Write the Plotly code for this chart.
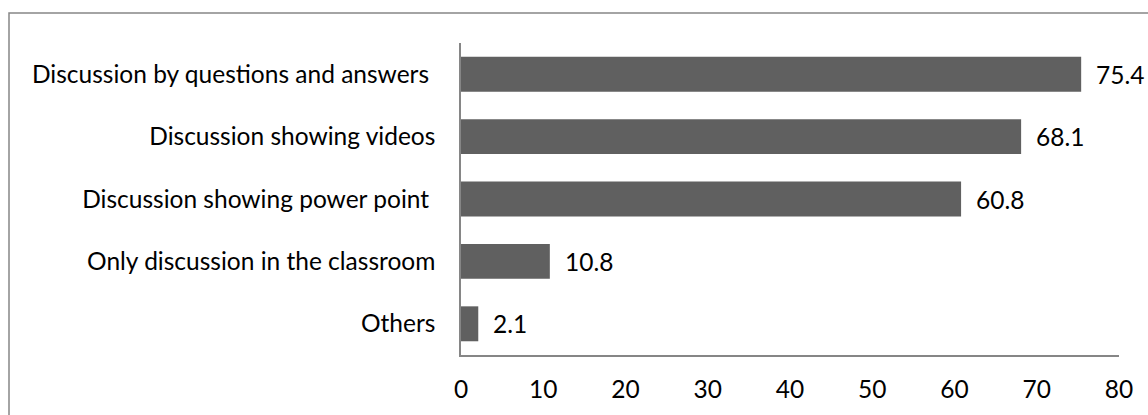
import plotly.graph_objects as go

categories = ["Discussion by questions and answers ", "Discussion showing videos",
              "Discussion showing power point ", "Only discussion in the classroom", "Others"]
values = [75.4, 68.1, 60.8, 10.8, 2.1]
labels = ["75.4", "68.1", "60.8", "10.8", "2.1"]
x_ticks = [0, 10, 20, 30, 40, 50, 60, 70, 80]

FONT = "Lato"
FS = 24.5
W, H = 1148, 415
L, T, R, B = 461, 43, 29, 60

fig = go.Figure()
fig.add_trace(go.Bar(
    y=categories, x=values, orientation="h",
    marker=dict(color="#606060", line=dict(width=0)),
    hoverinfo="skip",
))
for c, v, t in zip(categories, values, labels):
    fig.add_annotation(x=v, y=c, text=t, showarrow=False, xanchor="left",
                       xshift=13, font=dict(family=FONT, size=FS, color="#000000"))

plot_w = W - L - R
plot_h = H - T - B
fig.add_shape(type="rect", xref="paper", yref="paper",
              x0=(9 - L) / plot_w, x1=1.2, y0=-0.5, y1=1 + (T - 13) / plot_h,
              line=dict(color="#868686", width=1.5), layer="below")

fig.update_layout(
    width=W, height=H,
    margin=dict(l=L, r=R, t=T, b=B),
    paper_bgcolor="white", plot_bgcolor="white",
    bargap=0.44, showlegend=False,
    font=dict(family=FONT, size=FS, color="#000000"),
    xaxis=dict(range=[0, 80], tickvals=x_ticks, showgrid=False, zeroline=False,
               showline=True, linecolor="#868686", linewidth=1.5, ticks="",
               ticklabelstandoff=12, tickfont=dict(family=FONT, size=FS)),
    yaxis=dict(autorange="reversed", showgrid=False, zeroline=False,
               showline=True, linecolor="#868686", linewidth=1.5, ticks="",
               ticklabelstandoff=19, tickfont=dict(family=FONT, size=FS)),
)
fig.write_html("out.html", config={"displayModeBar": False},
               post_script="document.body.style.margin='0';document.body.style.overflow='hidden';")
